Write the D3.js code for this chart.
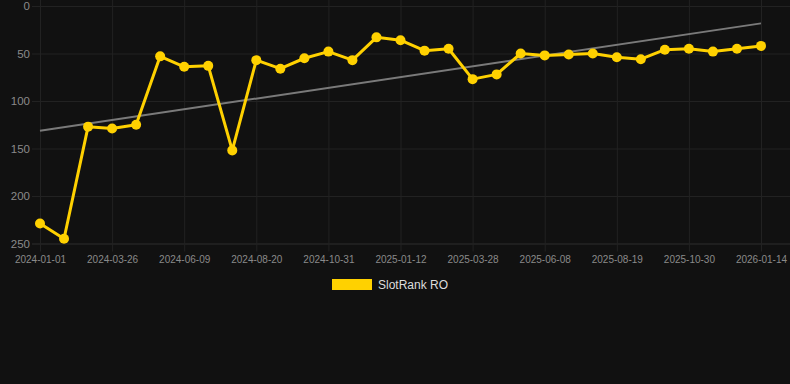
<!DOCTYPE html>
<html>
<head>
<meta charset="utf-8">
<script src="https://cdn.jsdelivr.net/npm/d3@7"></script>
<style>
  html, body { margin: 0; padding: 0; background: #111111; }
  svg { display: block; font-family: "Liberation Sans", Arial, sans-serif; }
</style>
</head>
<body>
<svg class="chart"></svg>
<script>
const width = 790;
const height = 384;

const dates = [
    "2024-01-01", "2024-01-29", "2024-02-26", "2024-03-26", "2024-04-20", "2024-05-15",
    "2024-06-09", "2024-07-03", "2024-07-27", "2024-08-20", "2024-09-13", "2024-10-07",
    "2024-10-31", "2024-11-24", "2024-12-18", "2025-01-12", "2025-02-06", "2025-03-03",
    "2025-03-28", "2025-04-21", "2025-05-15", "2025-06-08", "2025-07-02", "2025-07-26",
    "2025-08-19", "2025-09-12", "2025-10-06", "2025-10-30", "2025-11-24", "2025-12-19",
    "2026-01-14"
];

const ranks = [
    229, 245, 127, 129, 125, 53, 64, 63, 152, 57,
    66, 55, 48, 57, 33, 36, 47, 45, 77, 72,
    50, 52, 51, 50, 54, 56, 46, 45, 48, 45,
    42
];

const yTicks = [0, 50, 100, 150, 200, 250];
const seriesName = "SlotRank RO";
const lineColor = "#ffd100";

const svg = d3.select("svg.chart")
    .attr("width", width)
    .attr("height", height);

svg.append("rect")
    .attr("width", width)
    .attr("height", height)
    .attr("fill", "#111111");

const x = d3.scalePoint()
    .domain(dates)
    .range([40, 761]);

const y = d3.scaleLinear()
    .domain([0, 250])
    .range([6, 243.5]);

// horizontal grid + y labels
const yAxis = svg.append("g")
    .attr("transform", "translate(40,0)")
    .call(d3.axisLeft(y).tickValues(yTicks).tickSize(-(width - 40)).tickPadding(3))
    .call(g => g.select(".domain").remove());

yAxis.selectAll(".tick line")
    .attr("stroke", d => d === 250 ? "#2e2e2e" : "#222222")
    .attr("x1", -8);

yAxis.selectAll(".tick text")
    .attr("x", -10)
    .attr("fill", "#8a8a8a")
    .style("font-size", "11.5px");

// vertical grid + x labels every third date
const labelDates = dates.filter((d, i) => i % 3 === 0);

const xAxis = svg.append("g")
    .attr("transform", `translate(0,${y(250)})`)
    .call(d3.axisBottom(x).tickValues(labelDates).tickSize(-(y(250) - y(0)) - 10).tickPadding(6))
    .call(g => g.select(".domain").remove());

xAxis.selectAll(".tick line")
    .attr("stroke", "#222222")
    .attr("y1", 8);

xAxis.selectAll(".tick text")
    .attr("y", 12)
    .attr("fill", "#8a8a8a")
    .style("font-size", "10px");

// linear trend (least squares on index)
const n = ranks.length;
const meanI = (n - 1) / 2;
const meanV = d3.mean(ranks);
let num = 0;
let den = 0;
ranks.forEach((v, i) => {
    num += (i - meanI) * (v - meanV);
    den += (i - meanI) * (i - meanI);
});
const slope = num / den;
const intercept = meanV - slope * meanI;

svg.append("line")
    .attr("x1", x(dates[0]))
    .attr("y1", y(intercept))
    .attr("x2", x(dates[n - 1]))
    .attr("y2", y(intercept + slope * (n - 1)))
    .attr("stroke", "#7a7a7a")
    .attr("stroke-width", 2);

// rank line
const line = d3.line()
    .x((d, i) => x(dates[i]))
    .y(d => y(d));

svg.append("path")
    .datum(ranks)
    .attr("d", line)
    .attr("fill", "none")
    .attr("stroke", lineColor)
    .attr("stroke-width", 3)
    .attr("stroke-linejoin", "round");

svg.append("g")
    .selectAll("circle")
    .data(ranks)
    .join("circle")
    .attr("cx", (d, i) => x(dates[i]))
    .attr("cy", d => y(d))
    .attr("r", 5)
    .attr("fill", lineColor);

// legend
const legend = svg.append("g")
    .attr("transform", "translate(332,279)");

legend.append("rect")
    .attr("width", 40)
    .attr("height", 11)
    .attr("fill", lineColor);

legend.append("text")
    .attr("x", 46)
    .attr("y", 9.5)
    .attr("fill", "#dddddd")
    .style("font-size", "12px")
    .text(seriesName);
</script>
</body>
</html>
